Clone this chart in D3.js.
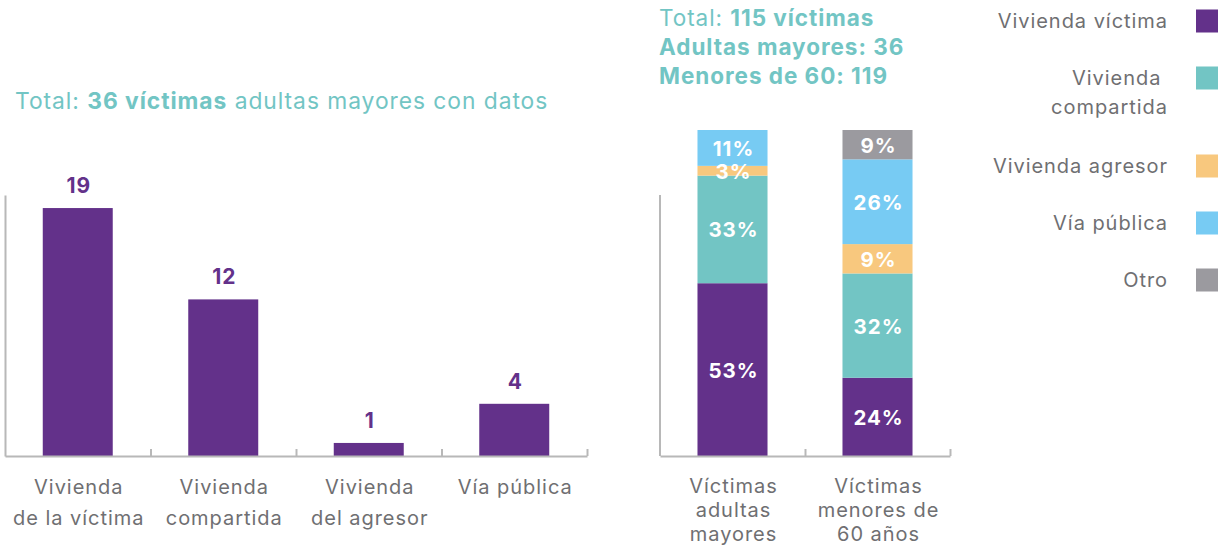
<!DOCTYPE html>
<html>
<head>
<meta charset="utf-8">
<script src="https://cdn.jsdelivr.net/npm/d3@7"></script>
<style>
  body { margin: 0; background: #fff; }
  svg { font-family: "Inter", "Noto Sans", sans-serif; letter-spacing: 0.06em; }
</style>
</head>
<body>
<script>
// Data
const categories = ['Vivienda de la víctima', 'Vivienda compartida', 'Vivienda del agresor', 'Vía pública'];
const categoryLines = [['Vivienda', 'de la víctima'], ['Vivienda', 'compartida'], ['Vivienda', 'del agresor'], ['Vía pública']];
const counts = [19, 12, 1, 4];

const groups = ['Víctimas adultas mayores', 'Víctimas menores de 60 años'];
const groupLines = [['Víctimas', 'adultas', 'mayores'], ['Víctimas', 'menores de', '60 años']];
const places = ['Vivienda víctima', 'Vivienda compartida', 'Vivienda agresor', 'Vía pública', 'Otro'];
const placeLines = [['Vivienda víctima'], ['Vivienda ', 'compartida'], ['Vivienda agresor'], ['Vía pública'], ['Otro']];
const pctAdultas = [53, 33, 3, 11, 0];
const pctMenores = [24, 32, 9, 26, 9];

const colors = ['#63318a', '#72c5c4', '#f8c87e', '#77cbf3', '#9b9a9f'];
const teal = '#72c5c4';
const grey = '#6f6f72';
const axisGrey = '#b8b8b8';

const width = 1227;
const height = 548;
const baseline = 456;

const svg = d3.select('body').append('svg')
    .attr('width', width)
    .attr('height', height);

// ---------- Left chart: counts ----------
const x1 = d3.scaleBand()
    .domain(categories)
    .range([5, 587])
    .paddingInner(0.519)
    .paddingOuter(0.2595);

const y1 = d3.scaleLinear()
    .domain([0, 20])
    .range([baseline, 195]);

const xEdges1 = d3.scaleLinear().domain([0, categories.length]).range([5, 587]);

svg.append('text')
    .attr('x', 15)
    .attr('y', 109)
    .attr('fill', teal)
    .style('font-size', '22.8px')
    .call(t => {
        t.append('tspan').text('Total: ');
        t.append('tspan').attr('font-weight', 700).text('36 víctimas');
        t.append('tspan').text(' adultas mayores con datos');
    });

svg.selectAll('rect.count')
    .data(counts)
    .enter()
    .append('rect')
    .attr('class', 'count')
    .attr('x', (d, i) => x1(categories[i]))
    .attr('y', d => y1(d))
    .attr('width', x1.bandwidth())
    .attr('height', d => baseline - y1(d))
    .attr('fill', colors[0]);

svg.selectAll('text.count')
    .data(counts)
    .enter()
    .append('text')
    .attr('class', 'count')
    .attr('x', (d, i) => x1(categories[i]) + x1.bandwidth() / 2 + 1)
    .attr('y', d => y1(d) - 15)
    .attr('text-anchor', 'middle')
    .attr('fill', colors[0])
    .attr('font-weight', 700)
    .style('font-size', '21px')
    .text(d => d);

svg.append('g')
    .attr('transform', `translate(0, ${baseline})`)
    .call(d3.axisBottom(xEdges1).tickValues([1, 2, 3, 4]).tickSize(-7).tickSizeOuter(0).tickFormat(''));

svg.append('g')
    .attr('transform', 'translate(5, 0)')
    .call(d3.axisLeft(y1).tickValues([]).tickSizeOuter(0));

categoryLines.forEach((lines, i) => {
    const cx = x1(categories[i]) + x1.bandwidth() / 2 + 1;
    const t = svg.append('text')
        .attr('x', cx)
        .attr('y', 494)
        .attr('text-anchor', 'middle')
        .attr('fill', grey)
        .style('font-size', '20px');
    lines.forEach((l, j) => {
        t.append('tspan').attr('x', cx).attr('dy', j === 0 ? 0 : 31).text(l);
    });
});

// ---------- Right chart: percentages ----------
const x2 = d3.scaleBand()
    .domain(groups)
    .range([660, 950])
    .paddingInner(0.517)
    .paddingOuter(0.2585);

const y2 = d3.scaleLinear()
    .domain([0, 100])
    .range([baseline, 130]);

const xEdges2 = d3.scaleLinear().domain([0, groups.length]).range([660, 950]);

const titleLines = [
    [['Total: ', 400], ['115 víctimas', 700]],
    [['Adultas mayores: 36', 700]],
    [['Menores de 60: 119', 700]]
];
titleLines.forEach((parts, i) => {
    const t = svg.append('text')
        .attr('x', 659)
        .attr('y', 26 + i * 29)
        .attr('fill', teal)
        .style('font-size', '22.5px');
    parts.forEach(p => t.append('tspan').attr('font-weight', p[1]).text(p[0]));
});

const stacked = [pctAdultas, pctMenores].map((vals, g) => {
    let acc = 0;
    return vals.map((v, k) => {
        const seg = { group: groups[g], k: k, v: v, y0: acc, y1: acc + v };
        acc += v;
        return seg;
    });
}).flat().filter(s => s.v > 0);

svg.selectAll('rect.pct')
    .data(stacked)
    .enter()
    .append('rect')
    .attr('class', 'pct')
    .attr('x', d => x2(d.group))
    .attr('y', d => y2(d.y1))
    .attr('width', x2.bandwidth())
    .attr('height', d => y2(d.y0) - y2(d.y1))
    .attr('fill', d => colors[d.k]);

svg.selectAll('text.pct')
    .data(stacked)
    .enter()
    .append('text')
    .attr('class', 'pct')
    .attr('x', d => x2(d.group) + x2.bandwidth() / 2 + 1)
    .attr('y', d => (y2(d.y0) + y2(d.y1)) / 2 + 8)
    .attr('text-anchor', 'middle')
    .attr('fill', '#fff')
    .attr('font-weight', 700)
    .style('font-size', '20.5px')
    .text(d => d.v + '%');

svg.append('g')
    .attr('transform', `translate(0, ${baseline})`)
    .call(d3.axisBottom(xEdges2).tickValues([1, 2]).tickSize(-7).tickSizeOuter(0).tickFormat(''));

svg.append('line')
    .attr('x1', 660).attr('x2', 660)
    .attr('y1', 195).attr('y2', baseline)
    .attr('stroke', axisGrey)
    .attr('stroke-width', 2);

groupLines.forEach((lines, i) => {
    const cx = x2(groups[i]) + x2.bandwidth() / 2 + 1;
    const t = svg.append('text')
        .attr('x', cx)
        .attr('y', 493)
        .attr('text-anchor', 'middle')
        .attr('fill', grey)
        .style('font-size', '20px');
    lines.forEach((l, j) => {
        t.append('tspan').attr('x', cx).attr('dy', j === 0 ? 0 : 24).text(l);
    });
});

// ---------- Legend ----------
const legendY = [21, 78, 166, 223, 280];
places.forEach((p, i) => {
    svg.append('rect')
        .attr('x', 1196)
        .attr('y', legendY[i] - 11.5)
        .attr('width', 22)
        .attr('height', 23)
        .attr('fill', colors[i]);
    const t = svg.append('text')
        .attr('x', 1168)
        .attr('y', legendY[i] + 7)
        .attr('text-anchor', 'end')
        .attr('fill', grey)
        .style('font-size', '20px');
    placeLines[i].forEach((l, j) => {
        t.append('tspan').attr('x', 1168).attr('dy', j === 0 ? 0 : 29).text(l);
    });
});

// axis styling
svg.selectAll('.domain, .tick line')
    .attr('stroke', axisGrey)
    .attr('stroke-width', 2);
</script>
</body>
</html>
